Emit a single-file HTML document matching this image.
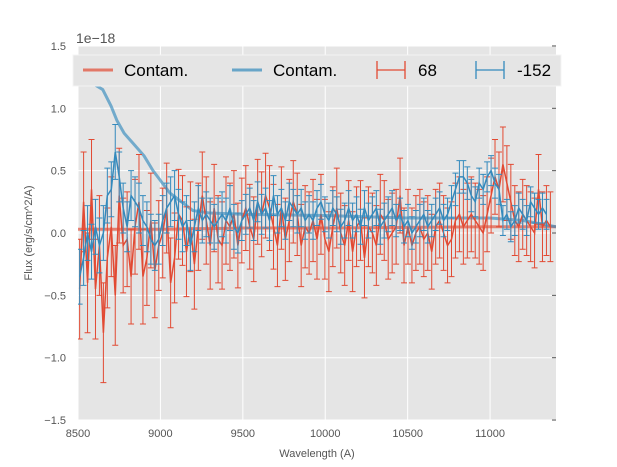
<!DOCTYPE html>
<html><head><meta charset="utf-8"><style>
body{margin:0;background:#fff;font-family:"Liberation Sans",sans-serif}
svg{display:block}
</style></head><body>
<svg id="chart" width="617" height="467" xmlns="http://www.w3.org/2000/svg">
<rect x="78" y="46" width="478" height="374" fill="#e5e5e5"/>
<g id="grid"></g><g id="ticks"></g>
<defs><clipPath id="clip"><rect x="78" y="46" width="478" height="374"/></clipPath></defs>
<g id="series" clip-path="url(#clip)"></g>
<text x="76" y="43" font-size="14" fill="#555">1e−18</text>
<text x="317" y="457" font-size="11" fill="#555" text-anchor="middle">Wavelength (A)</text>
<text transform="translate(32,233) rotate(-90)" font-size="11" fill="#555" text-anchor="middle">Flux (erg/s/cm^2/A)</text>
<g>
<rect x="73" y="55" width="488" height="31" fill="#e5e5e5" stroke="#f4f4f4"/>
<g><line x1="83" y1="70" x2="113" y2="70" stroke="#E24A33" stroke-width="3" opacity="0.7"/><text x="124" y="76" font-size="17" fill="#000">Contam.</text></g>
<g><line x1="232" y1="70" x2="262" y2="70" stroke="#348ABD" stroke-width="3" opacity="0.7"/><text x="273" y="76" font-size="17" fill="#000">Contam.</text></g>
<g><path d="M377 70H405M377 61V79M405 61V79" stroke="#E24A33" stroke-width="1.3" fill="none"/><text x="418" y="76" font-size="17" fill="#000">68</text></g>
<g><path d="M476 70H504M476 61V79M504 61V79" stroke="#348ABD" stroke-width="1.3" fill="none"/><text x="517" y="76" font-size="17" fill="#000">-152</text></g>
</g>
</svg>
<script>
const xTicks=[8500,9000,9500,10000,10500,11000];
const yTicks=[-1.5,-1.0,-0.5,0.0,0.5,1.0,1.5];
const wlStart=8510, wlStep=24;
const redFlux=[-0.45,0.25,-0.4,0.35,-0.45,-0.1,-0.8,-0.2,0.05,-0.5,0.3,-0.1,-0.05,-0.35,0.05,0.25,
-0.35,-0.2,0.1,-0.3,-0.1,0.0,0.2,-0.4,-0.2,0.15,0.1,-0.15,0.05,-0.25,0.05,0.3,0.1,-0.1,0.2,-0.05,
-0.1,0.1,0.05,0.15,-0.1,0.1,0.2,0.05,-0.05,0.25,0.15,0.3,0.2,0.05,-0.1,0.2,-0.05,0.1,0.25,0.15,
-0.1,0.05,0.0,0.1,-0.05,0.15,-0.05,-0.15,0.05,0.2,0.0,-0.1,0.1,-0.15,0.05,0.1,-0.2,0.05,0.0,-0.1,0.15,0.1,
-0.05,0.0,0.05,0.3,-0.1,0.05,-0.1,0.0,0.05,-0.05,0.0,-0.15,0.05,0.1,0.0,-0.1,-0.05,0.1,0.15,0.05,
0.1,0.15,0.1,0.05,0.0,0.15,0.3,0.45,0.35,0.55,0.4,0.25,0.1,0.05,0.15,0.1,0.05,0.0,0.35,0.05,0.1,0.05];
const blueFlux=[-0.35,-0.2,0.0,-0.15,0.05,-0.1,0.0,0.3,0.35,0.65,0.45,0.2,0.05,0.3,0.25,
0.2,0.1,0.05,-0.05,-0.1,-0.05,0.1,0.2,0.25,0.3,0.15,0.05,0.1,-0.1,0.05,0.2,0.1,0.15,0.1,0.05,
0.1,0.15,0.1,0.2,0.05,0.0,0.1,0.15,0.2,0.1,0.25,0.15,0.2,0.1,0.3,0.15,0.2,0.1,0.25,0.2,
0.15,0.2,0.1,0.15,0.1,0.2,0.25,0.15,0.1,0.2,0.15,0.05,0.1,0.2,0.1,0.15,0.05,0.2,0.1,0.15,0.2,0.05,0.1,
0.15,0.2,0.1,0.15,0.05,0.1,0.0,0.05,0.1,0.15,0.05,0.1,0.15,0.2,0.1,0.15,0.25,0.35,0.45,0.45,
0.4,0.3,0.25,0.4,0.35,0.45,0.5,0.4,0.35,0.1,0.15,0.05,0.1,0.2,0.15,0.1,0.25,0.2,0.15,0.2,0.15];
const redErr=[0.4,0.38,0.36,0.35,0.34,0.33,0.32,0.32,0.3,0.3,0.3,0.28];
const blueErr=[0.22,0.2,0.2,0.18,0.16,0.15,0.14,0.14,0.13,0.13,0.12,0.12];
const contamWl=[8500,8600,8650,8700,8737,8780,8827,8900,8955,9058,9197,9300,9500,10000,10500,11000,11200,11400];
const contamBlue=[1.2,1.19,1.15,1.02,0.9,0.8,0.73,0.62,0.5,0.32,0.18,0.16,0.15,0.14,0.12,0.12,0.1,0.05];
const contamRed=[0.03,0.03,0.03,0.03,0.03,0.03,0.03,0.03,0.03,0.03,0.035,0.035,0.04,0.04,0.045,0.05,0.05,0.05];
const X=v=>78+(v-8500)*478/2900, Y=v=>233-v*124.7;
const NS="http://www.w3.org/2000/svg";
function mk(p,tag,a){const e=document.createElementNS(NS,tag);for(const k in a)e.setAttribute(k,a[k]);p.appendChild(e);return e;}
const grid=document.getElementById('grid'),ticks=document.getElementById('ticks'),ser=document.getElementById('series');
xTicks.forEach(t=>{const x=X(t);
const g=mk(grid,'line',{x1:x,x2:x,y1:46,y2:420,stroke:'#fff','stroke-width':1});

const l=mk(ticks,'text',{x:x,y:437,'font-size':11,fill:'#555','text-anchor':'middle'});l.textContent=t;
});
yTicks.forEach(t=>{const y=Y(t);
const g=mk(grid,'line',{x1:78,x2:556,y1:y,y2:y,stroke:'#fff','stroke-width':1});

mk(grid,'line',{x1:552,x2:556,y1:y,y2:y,stroke:'#555'});
const l=mk(ticks,'text',{x:66,y:y+4,'font-size':11,fill:'#555','text-anchor':'end'});l.textContent=t.toFixed(1).replace('-','−');
});
function contam(vals,col,name){const d=contamWl.map((w,i)=>(i?'L':'M')+X(w)+' '+Y(vals[i])).join('');
const p=mk(ser,'path',{d:d,stroke:col,'stroke-width':3,fill:'none',opacity:0.65,'stroke-linejoin':'round'});
}
function errs(vals,errArr,col,name){const g=mk(ser,'g',{});

let d='';let eb='';
vals.forEach((v,i)=>{const x=X(wlStart+i*wlStep),y=Y(v);d+=(i?'L':'M')+x+' '+y;
const e=errArr[Math.min(errArr.length-1,Math.floor(i/10))];const y1=Y(v+e),y2=Y(v-e);
eb+=`M${x} ${y1}V${y2}M${x-3} ${y1}H${x+3}M${x-3} ${y2}H${x+3}`;});
mk(g,'path',{d:eb,stroke:col,'stroke-width':1,fill:'none'});
mk(g,'path',{d:d,stroke:col,'stroke-width':1.5,fill:'none'});}
contam(contamRed,'#E24A33','contam-line-68');
contam(contamBlue,'#348ABD','contam-line-152');
errs(redFlux,redErr,'#E24A33','series-68');
errs(blueFlux,blueErr,'#348ABD','series-152');
</script>
</body></html>
